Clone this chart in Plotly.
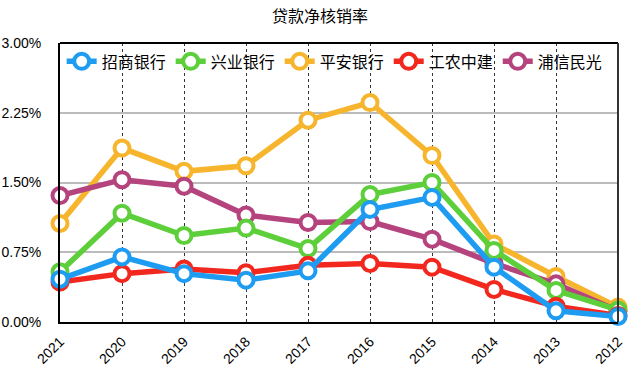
import plotly.graph_objects as go

years = ["2021", "2020", "2019", "2018", "2017", "2016", "2015", "2014", "2013", "2012"]
zhaoshang = [0.46, 0.70, 0.52, 0.45, 0.55, 1.21, 1.34, 0.59, 0.12, 0.06]
xingye = [0.54, 1.17, 0.93, 1.01, 0.79, 1.37, 1.50, 0.77, 0.34, 0.13]
pingan = [1.06, 1.87, 1.62, 1.68, 2.17, 2.36, 1.79, 0.84, 0.49, 0.16]
gongnong = [0.43, 0.52, 0.57, 0.53, 0.61, 0.63, 0.59, 0.35, 0.17, 0.07]
puxin = [1.36, 1.53, 1.46, 1.15, 1.07, 1.08, 0.89, 0.63, 0.41, 0.12]
names = ["招商银行", "兴业银行", "平安银行", "工农中建", "浦信民光"]
colors = ["#1E9CF2", "#5DCF3B", "#F7B52D", "#F2281F", "#B5437E"]
series = [zhaoshang, xingye, pingan, gongnong, puxin]
yticks = [0, 0.75, 1.5, 2.25, 3.0]
yticklabels = ["0.00%", "0.75%", "1.50%", "2.25%", "3.00%"]

font_family = "Liberation Sans, Noto Sans CJK SC, sans-serif"

fig = go.Figure()
draw_order = [2, 4, 1, 3, 0]
for i in draw_order:
    fig.add_trace(go.Scatter(
        x=years, y=series[i], name=names[i], mode="lines+markers",
        legendrank=i + 1,
        line=dict(color=colors[i], width=5.5),
        marker=dict(size=15, color="white", line=dict(color=colors[i], width=4)),
        cliponaxis=False,
    ))

fig.update_layout(
    width=640, height=375,
    margin=dict(l=60, r=22, t=43, b=53, autoexpand=False),
    paper_bgcolor="white", plot_bgcolor="white",
    font=dict(family=font_family, size=14, color="black"),
    title=dict(text="贷款净核销率", x=0.5, xanchor="center", y=0.955, yanchor="middle",
               font=dict(size=16, family=font_family)),
    showlegend=True,
    legend=dict(orientation="h", x=0.003, y=0.995, xanchor="left", yanchor="top",
                bgcolor="rgba(255,255,255,0)", font=dict(size=16), traceorder="normal",
                itemwidth=30),
    xaxis=dict(type="category", range=[0, 9], showgrid=True, gridcolor="#333333",
               griddash="dot", gridwidth=1, showline=True, linecolor="black", linewidth=2,
               mirror=False, tickangle=-45, ticks="", tickfont=dict(size=14),
               ticklabelstandoff=4,
               categoryorder="array", categoryarray=years, automargin=False),
    yaxis=dict(range=[0, 3.0], tickvals=yticks, ticktext=yticklabels, showgrid=True,
               gridcolor="#BBBBBB", gridwidth=1.5, showline=True, linecolor="black", linewidth=2,
               ticks="", tickfont=dict(size=14), zeroline=False, automargin=False,
               ticklabelstandoff=14),
)
fig.add_shape(type="line", xref="paper", yref="paper", x0=0, x1=1, y0=1, y1=1,
              line=dict(color="black", width=2))
fig.add_shape(type="line", xref="paper", yref="paper", x0=1, x1=1, y0=0, y1=1,
              line=dict(color="#333333", width=2))

fig.write_html("out.html", config={"displayModeBar": False},
               post_script="document.body.style.margin='0';")
